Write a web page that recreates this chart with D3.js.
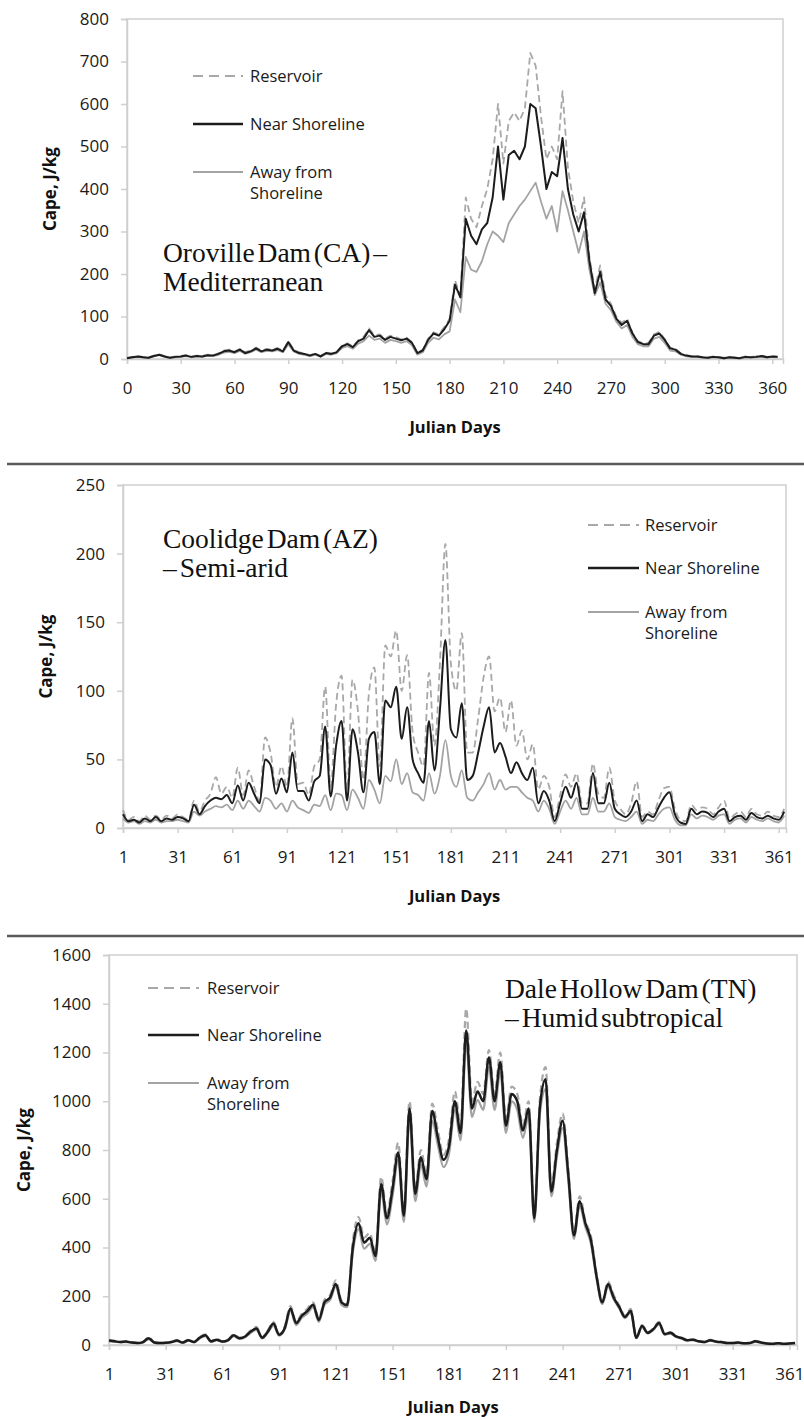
<!DOCTYPE html>
<html><head><meta charset="utf-8">
<script src="https://cdn.jsdelivr.net/npm/d3@7"></script>
<style>body{margin:0;background:#fff}</style>
</head><body><svg id="c" width="804" height="1420"></svg>
<script>
// ---------- DATA ----------
const seriesNames = ["Reservoir", "Near Shoreline", "Away from Shoreline"];
const titles1 = ["Oroville Dam (CA) \u2013", "Mediterranean"];
const titles2 = ["Coolidge Dam (AZ)", "\u2013 Semi-arid"];
const titles3 = ["Dale Hollow Dam (TN)", "\u2013 Humid subtropical"];

const xTicks1 = [0, 30, 60, 90, 120, 150, 180, 210, 240, 270, 300, 330, 360];
const xTicks23 = [1, 31, 61, 91, 121, 151, 181, 211, 241, 271, 301, 331, 361];
const yTicks1 = [0, 100, 200, 300, 400, 500, 600, 700, 800];
const yTicks2 = [0, 50, 100, 150, 200, 250];
const yTicks3 = [0, 200, 400, 600, 800, 1000, 1200, 1400, 1600];

const days1 = d3.range(0, 366, 3);   // 0,3,...,363
const days23 = d3.range(1, 366, 3);  // 1,4,...,364

const oroReservoir = [3,5,7,5,4,8,11,7,4,6,7,9,6,8,7,10,9,13,20,22,18,24,16,20,27,20,24,22,26,20,42,22,16,13,9,13,7,15,13,17,32,37,30,44,52,72,56,58,48,55,52,46,50,40,15,22,48,63,58,75,95,185,150,380,330,310,360,400,470,600,460,560,580,560,590,720,690,570,470,500,470,630,450,370,320,380,240,165,220,150,130,100,85,95,62,42,37,38,58,64,47,27,24,13,9,7,7,5,4,6,5,3,5,4,3,6,5,6,8,5,7,6];
const oroNear = [2,4,6,4,3,7,10,6,3,5,6,8,5,7,6,9,8,12,18,20,16,22,14,18,25,18,22,20,24,18,40,20,14,12,8,12,6,14,12,16,30,35,28,42,48,68,52,55,45,52,48,44,48,38,14,20,45,60,55,70,90,175,145,330,290,270,305,320,380,500,375,480,490,470,500,600,590,500,400,440,430,520,400,340,300,345,230,155,205,140,125,95,80,90,60,40,35,35,55,60,45,25,22,12,8,6,6,4,3,5,4,2,4,3,2,5,4,5,7,4,6,5];
const oroAway = [2,3,5,4,2,6,9,5,2,4,5,7,4,6,5,8,7,10,15,17,14,19,12,16,22,16,19,18,21,16,34,18,12,10,7,10,5,12,10,14,26,30,24,36,42,55,45,48,38,45,42,38,42,32,10,16,38,50,46,58,65,140,110,240,210,205,230,270,300,290,275,320,340,360,375,395,415,370,330,360,300,395,350,300,250,300,210,150,180,130,115,88,72,80,52,35,30,30,48,52,38,20,18,10,6,5,5,3,2,4,3,1,3,2,1,4,3,4,5,3,5,4];

const cooReservoir = [13,6,8,5,9,6,9,6,9,7,10,8,6,20,12,20,25,37,25,30,22,44,24,42,30,20,66,55,30,45,30,80,32,33,24,45,50,103,30,90,111,28,108,85,35,98,117,45,133,125,144,100,126,70,55,45,113,60,120,207,120,100,142,55,55,80,110,125,85,95,70,93,60,71,50,61,28,38,30,8,24,39,30,40,18,18,47,25,22,44,20,14,10,18,34,8,12,10,20,29,30,14,6,5,17,13,15,14,10,15,20,7,10,12,8,14,10,9,12,9,8,14];
const cooNear = [10,5,6,4,7,5,8,5,7,6,8,7,5,17,10,16,20,22,21,24,18,31,20,33,25,18,50,46,25,36,26,55,27,27,20,34,38,74,23,60,78,20,72,55,26,65,70,32,93,88,103,65,88,50,40,33,78,42,86,137,72,66,91,35,38,55,74,88,55,62,52,40,48,40,35,44,18,27,20,5,18,30,22,33,14,14,40,18,18,33,14,10,8,12,20,5,10,8,15,22,26,10,4,3,14,10,12,11,8,12,14,5,8,9,6,11,8,7,9,7,6,12];
const cooAway = [7,4,5,3,5,4,6,4,5,5,6,5,4,12,9,12,14,16,15,17,13,20,14,20,16,12,22,20,14,18,12,20,15,13,11,17,16,24,13,25,24,13,28,22,14,35,28,18,38,34,50,32,40,26,24,20,40,25,38,64,38,30,42,22,20,26,32,40,28,35,28,30,30,26,22,20,12,20,14,3,12,20,14,22,10,10,22,12,12,18,8,6,5,8,12,3,6,5,10,14,15,6,2,2,10,7,9,8,6,9,10,3,6,7,4,8,6,5,7,5,4,9];

const daleReservoir = [20,17,13,15,11,9,13,32,11,9,10,13,20,11,22,13,33,44,16,24,15,22,44,30,38,60,74,32,60,95,45,76,160,95,128,150,175,108,185,205,265,182,170,425,525,440,460,375,690,540,670,830,550,1000,640,800,700,990,880,780,850,1040,900,1380,1000,1080,1030,1210,1030,1200,930,1060,1030,900,1000,530,1010,1140,650,830,950,720,460,610,510,445,290,180,260,205,162,120,148,32,82,53,68,95,48,53,37,30,21,23,16,13,22,15,13,9,9,11,8,9,17,11,7,6,8,6,7,9];
const daleNear = [18,15,12,14,10,8,12,28,10,8,9,12,18,10,20,12,30,40,15,22,14,20,40,28,35,55,68,30,55,88,42,70,150,90,120,140,165,103,175,195,250,175,164,400,500,420,440,365,660,520,640,790,530,970,620,770,680,960,850,760,820,1000,870,1290,970,1040,1000,1180,1000,1160,900,1030,1000,880,970,520,980,1090,630,800,920,700,450,590,500,430,280,175,250,195,155,115,140,30,78,50,65,90,45,50,35,28,20,22,15,12,20,14,12,8,8,10,7,8,15,10,6,5,7,5,6,8];
const daleAway = [16,13,11,12,9,7,10,24,9,7,8,11,16,9,18,11,27,36,13,20,12,18,36,25,32,50,62,27,50,80,38,64,140,82,112,130,155,95,165,185,240,165,155,380,475,395,415,345,630,495,610,760,505,930,590,740,650,920,820,730,790,965,840,1240,935,1005,965,1140,965,1120,870,1000,965,850,940,505,950,1050,610,775,890,675,435,570,485,415,270,168,240,188,150,110,134,28,74,47,62,85,42,47,33,26,18,20,14,11,18,13,11,7,7,9,6,7,13,9,5,4,6,4,5,7];

// ---------- LAYOUT ----------
const svg = d3.select("#c");
const tickFont = "'Open Sans', 'Noto Sans', sans-serif";
const styles = [
  {stroke: "#a8a8a8", width: 1.8, dash: "7,4"},
  {stroke: "#1c1c1c", width: 2.0, dash: null},
  {stroke: "#a3a3a3", width: 1.8, dash: null}
];
const drawOrder = [0, 2, 1];

const panels = [
  {days: days1, series: [oroReservoir, oroNear, oroAway], xDomain: [0, 366], yDomain: [0, 800],
   xTicks: xTicks1, yTicks: yTicks1, l: 127, r: 783, t: 19, b: 359, curve: d3.curveLinear, lw: 1,
   leg: {x1: 193, x2: 243, tx: 250, ys: [76, 124, 172]}, title: titles1, tx: 163, tys: [262, 291],
   ylabX: 50, xlabY: 433},
  {days: days23, series: [cooReservoir, cooNear, cooAway], xDomain: [1, 365], yDomain: [0, 250],
   xTicks: xTicks23, yTicks: yTicks2, l: 123, r: 786, t: 485, b: 828, curve: d3.curveMonotoneX, lw: 1,
   leg: {x1: 588, x2: 639, tx: 645, ys: [525, 568, 612]}, title: titles2, tx: 163, tys: [548, 577],
   ylabX: 46, xlabY: 902},
  {days: days23, series: [daleReservoir, daleNear, daleAway], xDomain: [1, 365], yDomain: [0, 1600],
   xTicks: xTicks23, yTicks: yTicks3, l: 109, r: 797, t: 955, b: 1345, curve: d3.curveMonotoneX, lw: 1.25,
   leg: {x1: 148, x2: 199, tx: 207, ys: [988, 1035, 1083]}, title: titles3, tx: 505, tys: [998, 1027],
   ylabX: 24, xlabY: 1413}
];

// separators
[464, 936].forEach(y => svg.append("line").attr("x1", 7).attr("x2", 804).attr("y1", y).attr("y2", y)
  .attr("stroke", "#5a5a5a").attr("stroke-width", 2.5));

panels.forEach(p => {
  const x = d3.scaleLinear().domain(p.xDomain).range([p.l, p.r]);
  const y = d3.scaleLinear().domain(p.yDomain).range([p.b, p.t]);
  const g = svg.append("g");

  // frame
  g.append("rect").attr("x", p.l).attr("y", p.t).attr("width", p.r - p.l).attr("height", p.b - p.t)
    .attr("fill", "none").attr("stroke", "#cfcfcf").attr("stroke-width", 1.5);

  const ya = g.append("g").attr("transform", `translate(${p.l},0)`)
    .call(d3.axisLeft(y).tickValues(p.yTicks).tickSize(6).tickPadding(12).tickFormat(d3.format("d")));
  const xa = g.append("g").attr("transform", `translate(0,${p.b})`)
    .call(d3.axisBottom(x).tickValues(p.xTicks).tickSize(5).tickPadding(18).tickFormat(d3.format("d")));
  [ya, xa].forEach(a => {
    a.select(".domain").attr("stroke", "#cfcfcf").attr("stroke-width", 1.5);
    a.selectAll(".tick line").attr("stroke", "#cfcfcf").attr("stroke-width", 1.5);
    a.selectAll(".tick text").attr("fill", "#1a1a1a").style("font-family", tickFont).style("font-size", "17px");
  });

  // lines
  drawOrder.forEach(i => {
    const vals = p.series[i];
    const line = d3.line().x((d, k) => x(p.days[k])).y(d => y(d)).curve(p.curve);
    g.append("path").datum(vals).attr("d", line).attr("fill", "none")
      .attr("stroke", styles[i].stroke).attr("stroke-width", styles[i].width * p.lw)
      .attr("stroke-linejoin", "round")
      .attr("stroke-dasharray", styles[i].dash);
  });

  // legend
  seriesNames.forEach((name, i) => {
    const ly = p.leg.ys[i];
    g.append("line").attr("x1", p.leg.x1).attr("x2", p.leg.x2).attr("y1", ly).attr("y2", ly)
      .attr("stroke", styles[i].stroke).attr("stroke-width", i === 1 ? 2.4 : 2)
      .attr("stroke-dasharray", i === 0 ? "10,6" : null);
    const parts = i === 2 ? ["Away from", "Shoreline"] : [name];
    parts.forEach((t, j) => g.append("text").attr("x", p.leg.tx).attr("y", ly + j * 21).attr("dy", "0.35em")
      .style("font-family", tickFont).style("font-size", "16.5px").attr("fill", "#1a1a1a").text(t));
  });

  // title
  p.title.forEach((t, j) => g.append("text").attr("x", p.tx).attr("y", p.tys[j])
    .style("font-family", "'Liberation Serif', 'DejaVu Serif', serif").style("font-size", "27.5px")
    .style("word-spacing", "-4px")
    .attr("fill", "#111").text(t));

  // axis titles
  const cy = (p.t + p.b) / 2;
  g.append("text").attr("transform", `translate(${p.ylabX},${cy}) rotate(-90)`).attr("text-anchor", "middle")
    .attr("dy", "0.35em").style("font-family", tickFont).style("font-size", "17px").style("font-weight", "bold")
    .attr("fill", "#111").text("Cape, J/kg");
  g.append("text").attr("x", (p.l + p.r) / 2).attr("y", p.xlabY).attr("text-anchor", "middle")
    .style("font-family", tickFont).style("font-size", "16.5px").style("font-weight", "bold")
    .attr("fill", "#111").text("Julian Days");
});
</script>
</body></html>
